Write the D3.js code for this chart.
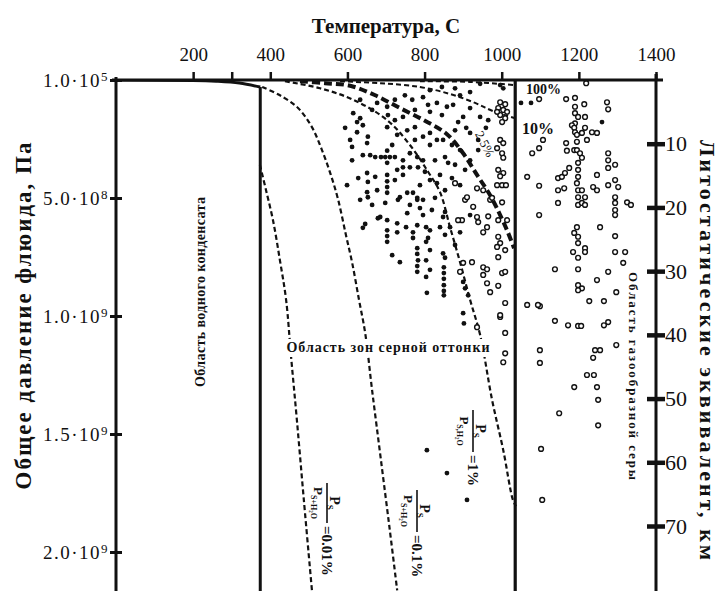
<!DOCTYPE html>
<html>
<head>
<meta charset="utf-8">
<script src="https://cdn.jsdelivr.net/npm/d3@7"></script>
<style>
  body { margin: 0; background: #fff; }
  text { font-family: "Liberation Serif", "DejaVu Serif", serif; fill: #111; }
</style>
</head>
<body>
<div class="chart"></div>
<script>
// ---- data (temperature in C, depth in km, pressure in Pa) ----
var tempTicks = [200, 300, 400, 600, 800, 1000, 1200, 1400];
var tempLabels = [200, 400, 600, 800, 1000, 1200, 1400];
var pressTicks = [1e5, 5e8, 1e9, 1.5e9, 2e9];
var pressLabels = [['1.0·10', '5'], ['5.0·10', '8'], ['1.0·10', '9'], ['1.5·10', '9'], ['2.0·10', '9']];
var kmTicks = [10, 20, 30, 40, 50, 60, 70];

var criticalT = 374;
var sulfurT = 1035;

// water saturation curve [T, Pa]
var waterCurve = [[0, 0], [200, 2e6], [260, 5e6], [320, 1.3e7], [374, 3e7]];

// isolines Ps/P(S+H2O) [T, km]
var curve001 = [[373, 13.3], [389, 17.3], [407, 22.0], [425, 28.3], [441, 34.5], [454, 43.5], [469, 53.4], [487, 65.9], [508, 80.1]];
var curve01 = [[379, 1.1], [425, 2.4], [472, 4.4], [508, 7.4], [534, 11.0], [557, 14.9], [576, 18.8], [596, 24.3], [612, 28.6], [630, 34.5], [646, 39.7], [664, 48.7], [687, 59.7], [710, 70.7], [729, 80.1]];
var curve1 = [[438, 0.2], [529, 1.3], [615, 3.1], [703, 6.3], [762, 10.2], [809, 14.4], [840, 17.6], [866, 23.1], [892, 28.6], [918, 34.5], [944, 40.0], [975, 50.2], [1004, 58.1], [1029, 65.9], [1037, 66.9]];
var curve25 = [[477, 0.2], [542, 0.5], [607, 0.9], [672, 2.4], [736, 4.4], [801, 6.4], [858, 8.5], [900, 11.5], [936, 14.9], [970, 18.1], [996, 21.2], [1016, 23.9], [1032, 26.4]];
var curve10 = [[581, 0.2], [685, 0.5], [788, 1.1], [866, 2.2], [931, 3.6], [978, 4.9], [1035, 6.0]];
var curve100 = [[788, 0.2], [918, 0.3], [1035, 0.8]];

// filled points [T, km]
var filledPts = [
  [845,1.1],[879,1.3],[944,0.6],[996,0.8],[1004,1.3],[892,2.4],[918,1.9],[814,1.6],
  [749,2.4],[796,2.7],[832,3.6],[858,4.2],[874,3.9],[900,5.8],[944,5.8],[677,3.6],[703,4.2],[705,5.5],[723,6.3],[744,5.8],[615,5.2],[625,6.6],[775,4.7],[814,5.0],[918,4.4],[965,6.3],
  [625,8.2],[607,9.4],[612,10.5],[653,8.9],[651,9.9],[703,7.4],[729,8.6],[755,7.9],[775,7.4],[796,8.9],[814,8.3],[832,9.4],[848,9.4],[879,7.9],[918,8.3],[939,9.4],[640,7.1],
  [687,12.1],[698,12.1],[710,12.1],[723,12.1],[703,11.1],[703,13.0],
  [640,11.8],[659,11.8],[672,12.1],[744,12.6],[762,11.5],[781,12.1],[796,12.6],[827,12.6],[853,12.1],[861,13.0],[612,12.6],[892,11.0],[918,12.6],[879,13.3],
  [651,14.6],[653,16.0],[651,17.6],[653,18.4],[672,15.2],[677,17.3],[703,14.9],[703,15.9],[703,16.8],[703,17.7],[729,14.1],[744,13.7],[762,13.7],[783,13.7],[801,14.4],[814,15.7],[832,16.2],[744,14.9],[736,18.4],[755,17.7],[770,17.7],[781,18.5],[796,18.8],[853,17.3],[871,15.4],[892,16.5],[599,16.5],[628,15.4],
  [685,21.5],[703,22.0],[729,22.5],[755,20.9],[796,21.2],[698,19.3],[731,18.8],[781,18.8],[788,20.1],[827,18.5],[853,20.7],[848,21.5],[640,23.2],[679,21.7],[840,23.1],[804,23.1],[729,23.9],[770,23.9],[646,22.6],
  [703,23.6],[703,24.5],[703,25.4],[752,23.1],[781,22.8],[809,24.8],[853,24.3],[853,27.9],[781,26.4],[781,27.3],[783,28.3],[814,26.7],[848,27.2],[804,25.4],[770,24.8],[866,23.1],[814,23.6],
  [781,29.2],[781,30.1],[850,29.4],[850,30.3],[850,31.2],[850,32.2],[850,33.1],[850,33.8],[804,30.9],[806,33.4],[804,28.3],[900,31.7],[905,32.7],[913,33.8],
  [900,36.6],[902,38.2],[806,58.1],[858,61.7],[910,65.9],
  [633,3.1],[664,4.7],[723,3.1],[768,3.1],[809,3.9],[845,5.5],[887,6.6],[908,7.5],[959,7.5],[633,6.0],[594,7.5],
  [716,10.2],[775,9.4],[814,10.2],[871,10.2],[939,11.0],[723,15.7],[788,16.5],[840,14.9],[905,14.1],
  [633,18.8],[664,19.6],[762,19.6],[819,20.4],[716,27.5],[736,28.6],[814,29.8],[879,25.9],[892,23.9],[918,21.2],
  [1050,3.6],[1076,3.6],[1260,6.6]
];

// open points [T, km]
var openPts = [
  [996,3.5],[1009,3.8],[991,4.4],[1004,4.7],[1014,5.0],[996,5.5],[1009,6.0],[1001,6.6],[988,5.0],
  [996,9.4],[1004,9.9],[988,10.7],[1001,11.5],[1004,12.2],
  [991,14.1],[1004,14.6],[996,15.1],
  [988,16.5],[1001,16.5],[1011,16.5],
  [879,16.2],[905,18.8],[926,19.9],[970,18.8],[1001,19.2],[965,21.4],[936,21.5],[939,22.3],[962,23.1],[952,23.9],[897,22.0],[887,22.0],[991,22.0],[1014,22.0],[991,24.6],[996,25.6],[988,26.2],[1009,26.7],[991,27.8],[900,28.7],[923,28.6],[892,30.1],[952,29.4],[962,29.7],[952,30.6],[1001,30.3],[1009,30.1],[962,31.9],[991,32.3],[970,33.3],[1009,35.0],[996,37.2],[936,38.8],[1009,39.7],[1009,42.9],[1004,44.3],[996,36.9],
  [910,18.4],[936,17.0],[952,17.3],[975,18.5],
  [1097,3.0],[1167,3.0],[1190,2.8],[1219,0.5],[1214,3.8],[1273,3.5],[1276,4.6],
  [1190,4.2],[1190,5.2],[1198,5.8],[1190,6.8],[1182,7.1],[1188,7.5],[1190,8.2],[1195,8.6],[1195,9.7],[1216,5.8],[1216,7.5],[1208,8.3],[1221,9.4],[1234,8.2],[1247,8.3],
  [1107,9.4],[1097,10.7],[1079,11.5],[1167,9.9],[1169,11.1],[1188,11.0],[1195,11.0],[1203,11.5],[1208,12.2],
  [1276,11.5],[1276,12.6],[1276,13.8],[1294,13.3],
  [1066,15.2],[1097,16.6],[1146,15.4],[1156,15.2],[1164,14.6],[1175,13.8],[1146,17.3],[1162,17.0],
  [1198,13.0],[1198,14.1],[1198,15.2],[1195,16.2],[1198,17.3],[1198,18.4],[1198,19.6],
  [1208,17.3],[1216,18.4],[1208,19.3],[1216,19.6],
  [1146,19.3],[1247,14.9],[1237,16.8],[1247,17.3],
  [1276,16.5],[1294,15.7],[1302,16.8],
  [1294,18.4],[1294,19.3],[1294,20.4],[1294,21.2],
  [1325,19.2],[1335,19.6],
  [1097,21.2],[1255,23.1],[1294,24.5],
  [1195,23.1],[1188,24.0],[1198,24.6],[1198,25.6],[1216,26.4],
  [1185,27.0],[1216,27.0],[1198,27.9],[1294,27.0],[1320,27.0],[1315,28.7],
  [1138,29.7],[1198,29.7],[1276,30.1],[1247,31.4],
  [1198,32.2],[1208,32.7],[1198,33.0],[1297,33.3],
  [1099,35.5],[1227,34.7],[1265,34.7],
  [1066,35.3],[1094,35.3],
  [1138,37.8],[1198,38.6],[1206,38.6],[1265,38.5],[1276,38.0],[1172,38.5],
  [1297,41.6],
  [1099,42.4],[1099,44.4],[1242,42.4],[1255,42.4],[1237,43.6],
  [1221,46.3],[1239,46.3],[1188,48.2],[1247,48.2],[1250,50.2],
  [1149,52.3],[1250,54.2],[1102,57.9],[1105,65.9]
];

var ink = '#111';

var svg = d3.select('.chart')
  .append('svg')
  .attr('width', 720)
  .attr('height', 591);

var x = d3.scaleLinear().domain([0, 1400]).range([116, 656]);
var yP = d3.scaleLinear().domain([0, 2e9]).range([80, 552]);
var yKm = d3.scaleLinear().domain([0, 70]).range([80, 526]);

svg.append('clipPath').attr('id', 'plot')
  .append('rect').attr('x', 116).attr('y', 80).attr('width', 540).attr('height', 511);

var plot = svg.append('g').attr('clip-path', 'url(#plot)');

var line = d3.line()
  .x(d => x(d[0]))
  .y(d => yKm(d[1]))
  .curve(d3.curveCatmullRom.alpha(0.5));

var pLine = d3.line()
  .x(d => x(d[0]))
  .y(d => yP(d[1]))
  .curve(d3.curveMonotoneX);

// water curve and the two vertical boundaries
plot.append('path')
  .attr('d', pLine(waterCurve))
  .style('fill', 'none').style('stroke', ink).style('stroke-width', 3);

plot.append('line')
  .attr('x1', x(criticalT)).attr('x2', x(criticalT))
  .attr('y1', yP(3e7)).attr('y2', 591)
  .style('stroke', ink).style('stroke-width', 3);

plot.append('line')
  .attr('x1', x(sulfurT)).attr('x2', x(sulfurT))
  .attr('y1', 80).attr('y2', 591)
  .style('stroke', ink).style('stroke-width', 3.2);

// dashed isolines
var dashed = [
  { d: curve001, w: 2.2, dash: '5,3' },
  { d: curve01, w: 2.2, dash: '5,3' },
  { d: curve1, w: 2.2, dash: '5,3' },
  { d: curve25, w: 4, dash: '8,4' },
  { d: curve10, w: 2, dash: '5,3' },
  { d: curve100, w: 2, dash: '5,3' }
];
plot.selectAll('.iso')
  .data(dashed)
  .enter()
  .append('path')
  .attr('class', 'iso')
  .attr('d', c => line(c.d))
  .style('fill', 'none')
  .style('stroke', ink)
  .style('stroke-width', c => c.w)
  .style('stroke-dasharray', c => c.dash);

// points
plot.selectAll('.open')
  .data(openPts)
  .enter()
  .append('circle')
  .attr('class', 'open')
  .attr('cx', d => x(d[0]))
  .attr('cy', d => yKm(d[1]))
  .attr('r', 2.4)
  .style('fill', '#fff')
  .style('stroke', ink)
  .style('stroke-width', 1.4);

plot.selectAll('.dot')
  .data(filledPts)
  .enter()
  .append('circle')
  .attr('class', 'dot')
  .attr('cx', d => x(d[0]))
  .attr('cy', d => yKm(d[1]))
  .attr('r', 2.4)
  .style('fill', ink);

// ---- axes ----
var topAxis = svg.append('g')
  .attr('transform', 'translate(0,80)')
  .call(d3.axisTop(x).tickValues(tempTicks).tickSize(8).tickPadding(11)
    .tickFormat(d => tempLabels.indexOf(d) >= 0 ? d : ''));
topAxis.attr('font-family', null).attr('font-size', 19);
topAxis.select('.domain').remove();
topAxis.selectAll('line').style('stroke', ink).style('stroke-width', 2.5);
topAxis.selectAll('text').style('fill', ink);

svg.append('line')
  .attr('x1', 112).attr('x2', 663).attr('y1', 80).attr('y2', 80)
  .style('stroke', ink).style('stroke-width', 3);

var leftAxis = svg.append('g')
  .attr('transform', 'translate(116,0)')
  .call(d3.axisLeft(yP).tickValues(pressTicks).tickSize(0).tickFormat(''));
leftAxis.select('.domain').remove();
leftAxis.selectAll('.tick').each(function (d, i) {
  var g = d3.select(this);
  g.append('line').attr('x1', -6).attr('x2', 6)
    .style('stroke', ink).style('stroke-width', 3);
  var t = g.append('text')
    .attr('x', -7).attr('dy', '0.35em')
    .attr('text-anchor', 'end')
    .style('font-size', '19px')
    .style('letter-spacing', '1.5px')
    .style('font-family', '"Liberation Serif", serif');
  t.append('tspan').text(pressLabels[i][0]);
  t.append('tspan').attr('dy', '-0.5em').style('font-size', '13px').text(pressLabels[i][1]);
});
svg.append('line')
  .attr('x1', 116).attr('x2', 116).attr('y1', 77).attr('y2', 591)
  .style('stroke', ink).style('stroke-width', 3);

var rightAxis = svg.append('g')
  .attr('transform', 'translate(656,0)')
  .call(d3.axisRight(yKm).tickValues(kmTicks).tickSize(0).tickPadding(9));
rightAxis.attr('font-family', null).attr('font-size', 22);
rightAxis.select('.domain').remove();
rightAxis.selectAll('.tick').append('line')
  .attr('x1', -9).attr('x2', 9)
  .style('stroke', ink).style('stroke-width', 4.5);
rightAxis.selectAll('text').style('fill', ink);
svg.append('line')
  .attr('x1', 656).attr('x2', 656).attr('y1', 74).attr('y2', 591)
  .style('stroke', ink).style('stroke-width', 3);

// ---- titles ----
svg.append('text')
  .attr('x', 386).attr('y', 33)
  .attr('text-anchor', 'middle')
  .style('font-size', '21px').style('font-weight', 'bold')
  .text('Температура, С');

svg.append('text')
  .attr('transform', 'translate(31,316) rotate(-90)')
  .attr('text-anchor', 'middle')
  .attr('textLength', 347).attr('lengthAdjust', 'spacing')
  .style('font-size', '23px').style('font-weight', 'bold')
  .text('Общее давление флюида, Па');

svg.append('text')
  .attr('transform', 'translate(700,350) rotate(90)')
  .attr('text-anchor', 'middle')
  .attr('textLength', 420).attr('lengthAdjust', 'spacing')
  .style('font-size', '22px').style('font-weight', 'bold')
  .text('Литостатические эквивалент, км');

// ---- region labels ----
svg.append('text')
  .attr('transform', 'translate(205,292) rotate(-90)')
  .attr('text-anchor', 'middle')
  .attr('textLength', 190).attr('lengthAdjust', 'spacing')
  .style('font-size', '14px').style('font-weight', 'bold')
  .text('Область водного конденсата');

// the curves break under this label
svg.append('rect')
  .attr('x', 284).attr('y', 339).attr('width', 208).attr('height', 18)
  .style('fill', '#fff');
svg.append('text')
  .attr('x', 388).attr('y', 352)
  .attr('text-anchor', 'middle')
  .attr('textLength', 203).attr('lengthAdjust', 'spacing')
  .style('font-size', '14px').style('font-weight', 'bold')
  .text('Область зон серной оттонки');

svg.append('text')
  .attr('transform', 'translate(629,376) rotate(90)')
  .attr('text-anchor', 'middle')
  .attr('textLength', 208).attr('lengthAdjust', 'spacing')
  .style('font-size', '13px').style('font-weight', 'bold')
  .text('Область газообразной серы');

svg.append('text').attr('x', 526).attr('y', 94)
  .style('font-size', '14px').style('font-weight', 'bold').text('100%');
svg.append('text').attr('x', 522).attr('y', 134)
  .style('font-size', '16px').style('font-weight', 'bold').text('10%');
svg.append('text')
  .attr('transform', 'translate(481,146) rotate(62)')
  .attr('text-anchor', 'middle')
  .style('font-size', '13px')
  .text('2.5%');

// fraction labels Ps / P(S+H2O) = ...
function fraction(px, py, len, den, val) {
  var g = svg.append('g').attr('transform', 'translate(' + px + ',' + py + ') rotate(90)');
  g.append('line').attr('x1', 0).attr('x2', len).attr('y1', 0).attr('y2', 0)
    .style('stroke', ink).style('stroke-width', 1.6);
  var n = g.append('text').attr('x', len / 2).attr('y', -3).attr('text-anchor', 'middle')
    .style('font-size', '14px').style('font-weight', 'bold');
  n.append('tspan').text('P');
  n.append('tspan').attr('dy', 3).style('font-size', '9px').text('S');
  var dn = g.append('text').attr('x', len / 2).attr('y', 13).attr('text-anchor', 'middle')
    .style('font-size', '13px').style('font-weight', 'bold');
  dn.append('tspan').text('P');
  dn.append('tspan').attr('dy', 3).style('font-size', '8px').text(den);
  g.append('text').attr('x', len + 3).attr('y', 5)
    .style('font-size', '15px').style('font-weight', 'bold')
    .text(val);
}
fraction(327, 483, 40, 'S+H₂O', '=0.01%');
fraction(417, 490, 42, 'S+H₂O', '=0.1%');
fraction(473, 410, 42, 'S,H₂O', '=1%');
</script>
</body>
</html>
